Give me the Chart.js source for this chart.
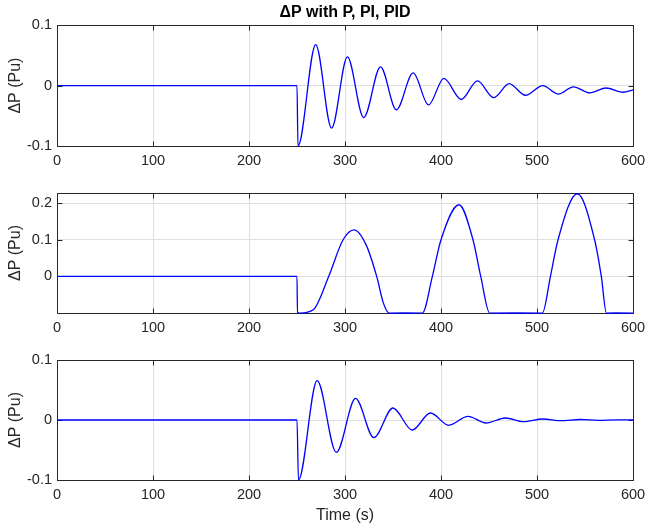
<!DOCTYPE html>
<html>
<head>
<meta charset="utf-8">
<script src="https://cdn.jsdelivr.net/npm/chart.js@4.4.1/dist/chart.umd.min.js"></script>
<style>
  html, body { margin: 0; padding: 0; background: #ffffff; }
  #wrap { position: relative; width: 646px; height: 527px; background: #ffffff; }
  #wrap canvas { position: absolute; left: 0; top: 0; }
</style>
</head>
<body>
<div id="wrap">
  <canvas id="c1" width="646" height="527"></canvas>
  <canvas id="c2" width="646" height="527"></canvas>
  <canvas id="c3" width="646" height="527"></canvas>
</div>
<script>
// ---- Data ----
const titleText = 'ΔP with P, PI, PID';
const yLabelText = 'ΔP (Pu)';
const xLabelText = 'Time (s)';

const xTicks = [0, 100, 200, 300, 400, 500, 600];
const yTicksP = [-0.1, 0, 0.1];
const yTicksPI = [0, 0.1, 0.2];
const yTicksPID = [-0.1, 0, 0.1];

// Subplot 1 : P controller
const pTime  = [0, 250, 251, 269.5, 286, 302.5, 319.5, 337, 353.5, 371, 387, 403, 421, 438, 455, 471, 488, 506, 522, 538, 555, 572, 589.5, 600];
const pValue = [0, 0, -0.1, 0.068, -0.0705, 0.0475, -0.053, 0.031, -0.040, 0.021, -0.032, 0.012, -0.023, 0.0078, -0.020, 0.0033, -0.016, 0.0, -0.014, -0.002, -0.012, -0.004, -0.011, -0.007];

// Subplot 2 : PI controller
const piTime  = [0, 250, 250.5, 253, 267, 283, 298, 309.4, 322, 333, 340, 346, 380.6, 391, 400, 418.8, 433.3, 441.4, 450.7, 505.6, 514, 521.9, 542, 560, 567, 572.3, 600];
const piValue = [0, 0, -0.1, -0.1, -0.091, 0, 0.1, 0.127, 0.086, 0, -0.073, -0.1, -0.1, 0, 0.1, 0.1955, 0.1, 0, -0.1, -0.1, 0, 0.1, 0.2255, 0.1, 0, -0.1, -0.1];

// Subplot 3 : PID controller
const pidTime  = [0, 250, 251.5, 271, 291, 311, 330, 350, 370, 389, 408, 428, 447, 467, 486, 506, 525, 545, 564, 584, 600];
const pidValue = [0, 0, -0.1, 0.0656, -0.054, 0.036, -0.0294, 0.020, -0.0167, 0.0117, -0.0089, 0.0061, -0.005, 0.0033, -0.0028, 0.0017, -0.0012, 0.0008, -0.0005, 0.0003, 0];

// ---- Styling ----
Chart.defaults.font.family = '"Liberation Sans", Arial, Helvetica, sans-serif';
const AXIS = '#262626';
const GRID = '#dfdfdf';

const matlabAxes = {
  id: 'matlabAxes',
  beforeDatasetsDraw(chart) {
    const { ctx, chartArea: a, scales: { x, y } } = chart;
    ctx.save();
    ctx.strokeStyle = AXIS;
    ctx.lineWidth = 1;
    const L = Math.round(a.left) + 0.5, R = Math.round(a.right) + 0.5;
    const T = Math.round(a.top) + 0.5, B = Math.round(a.bottom) + 0.5;
    ctx.beginPath();
    ctx.rect(L, T, R - L, B - T);
    x.ticks.forEach(t => {
      const px = Math.round(x.getPixelForValue(t.value)) + 0.5;
      ctx.moveTo(px, B); ctx.lineTo(px, B - 5);
      ctx.moveTo(px, T); ctx.lineTo(px, T + 5);
    });
    y.ticks.forEach(t => {
      const py = Math.round(y.getPixelForValue(t.value)) + 0.5;
      ctx.moveTo(L, py); ctx.lineTo(L + 5, py);
      ctx.moveTo(R, py); ctx.lineTo(R - 5, py);
    });
    ctx.stroke();
    ctx.restore();
  }
};

function makeChart(id, times, values, yMin, yMax, yTicks, cfg) {
  const data = times.map((t, i) => ({ x: t, y: values[i] }));
  return new Chart(document.getElementById(id), {
    type: 'line',
    data: { datasets: [{
      data,
      borderColor: '#0000ff',
      borderWidth: 1.3,
      pointRadius: 0,
      fill: false,
      cubicInterpolationMode: 'monotone',
      clip: 2
    }] },
    options: {
      responsive: false,
      animation: false,
      devicePixelRatio: 1,
      layout: { padding: { top: cfg.padTop, bottom: cfg.padBottom, left: 0, right: 13 } },
      plugins: {
        legend: { display: false },
        tooltip: { enabled: false },
        title: cfg.title ? {
          display: true, text: cfg.title, color: '#000000', fullSize: false,
          font: { size: 16, weight: 'bold' }, padding: { top: 3, bottom: 3 }
        } : { display: false }
      },
      scales: {
        x: {
          type: 'linear', min: 0, max: 600,
          afterBuildTicks: s => { s.ticks = xTicks.map(v => ({ value: v })); },
          afterFit: s => { s.height = cfg.xHeight; s.paddingLeft = 0; s.paddingRight = 0; },
          ticks: { color: AXIS, font: { size: 14.5 }, padding: 6, maxRotation: 0, autoSkip: false,
                   callback: v => String(v) },
          grid: { color: GRID, drawTicks: false, lineWidth: 1 },
          border: { display: false },
          title: cfg.xTitle ? { display: true, text: cfg.xTitle, color: AXIS,
                   font: { size: 16 }, padding: { top: 2, bottom: 2 } } : { display: false }
        },
        y: {
          type: 'linear', min: yMin, max: yMax,
          afterBuildTicks: s => { s.ticks = yTicks.map(v => ({ value: v })); },
          afterFit: s => { s.width = 57; s.paddingTop = 0; s.paddingBottom = 0; },
          ticks: { color: AXIS, font: { size: 14.5 }, padding: 5, autoSkip: false,
                   callback: v => String(v) },
          grid: { color: GRID, drawTicks: false, lineWidth: 1 },
          border: { display: false },
          title: { display: true, text: yLabelText, color: AXIS,
                   font: { size: 16 }, padding: { top: 6, bottom: 0 } }
        }
      }
    },
    plugins: [matlabAxes]
  });
}

makeChart('c1', pTime, pValue, -0.1, 0.1, yTicksP,
  { title: titleText, padTop: 0, padBottom: 527 - 146 - 24, xHeight: 24 });
makeChart('c2', piTime, piValue, -0.0999, 0.2275, yTicksPI,
  { padTop: 193, padBottom: 527 - 313 - 24, xHeight: 24 });
makeChart('c3', pidTime, pidValue, -0.1, 0.1, yTicksPID,
  { xTitle: xLabelText, padTop: 360, padBottom: 0, xHeight: 47 });
</script>
</body>
</html>
